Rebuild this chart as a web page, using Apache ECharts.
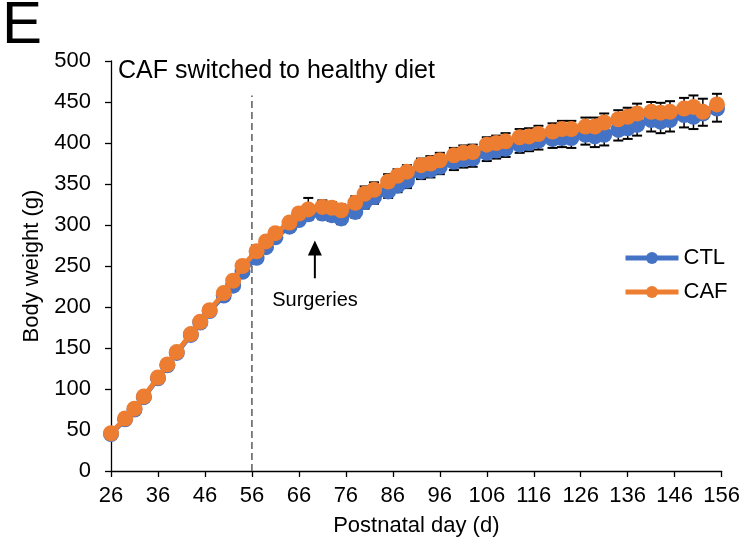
<!DOCTYPE html>
<html><head><meta charset="utf-8">
<script src="https://cdn.jsdelivr.net/npm/echarts@6/dist/echarts.min.js"></script>
<style>html,body{margin:0;padding:0;background:#fff}#c{width:743px;height:551px}</style>
</head><body><div id="c"></div>
<script>
// Postnatal days of measurement
const days = [26,29,31,33,36,38,40,43,45,47,
  50,52,54,57,59,61,64,66,68,71,
  73,75,78,80,82,85,87,89,92,94,
  96,99,101,103,106,108,110,113,115,117,
  120,122,124,127,129,131,134,136,138,141,
  143,145,148,150,152,155];
const ctlMean = [45,63,75,90,113,129,144,166,181,195,
  214,226,243,260,273,285,298,306,313,314,
  312,308,316,328,334,341,348,354,365,367,
  371,377,380,381,388,391,393,398,400,403,
  405,406,406,410,408,410,416,418,422,428,
  426,428,434,432,436,442];
const ctlSem = [2,2,2,2,2,3,3,3,3,3,
  4,5,5,5,5,5,6,6,7,7,
  7,7,7,8,8,8,8,9,9,9,
  9,10,10,10,10,10,10,10,10,11,
  11,11,12,12,13,13,13,13,13,14,
  14,14,15,15,15,16];
const cafMean = [46,64,76,91,114,130,145,167,182,196,
  217,232,250,268,280,290,303,314,319,322,
  321,318,327,338,343,353,360,365,373,375,
  379,385,388,389,398,400,402,407,408,411,
  414,417,417,420,420,425,429,432,436,438,
  437,438,442,444,438,447];
const cafSem = [2,2,2,2,2,3,3,3,3,3,
  4,4,5,5,5,5,6,6,14,8,
  7,7,8,9,9,9,8,8,8,9,
  9,9,9,9,9,9,10,10,10,10,
  10,10,10,11,11,11,11,11,12,12,
  12,13,13,14,16,13];
const xTickLabels = [26,36,46,56,66,76,86,96,106,116,126,136,146,156];
const switchDay = 56;
const surgeryDay = 69.4;

const X0 = xTickLabels[0];
const FONT = '"Liberation Sans", Arial, sans-serif';
const BLUE = '#4472C4', ORANGE = '#ED7D31';

function pts(mean, sem) { return days.map((d, i) => [d - X0, mean[i], sem[i]]); }
function errSeries(name, mean, sem, dir, z) {
  return {
    type: 'custom', name: name, z: z, silent: true, data: pts(mean, sem),
    renderItem: function (params, api) {
      const x = api.value(0), y = api.value(1), e = api.value(2);
      const p0 = api.coord([x, y]), p1 = api.coord([x, y + dir * e]);
      return { type: 'group', children: [
        { type: 'line', shape: { x1: p0[0], y1: p0[1], x2: p1[0], y2: p1[1] }, style: { stroke: '#000', lineWidth: 1.5 } },
        { type: 'line', shape: { x1: p1[0] - 5, y1: p1[1], x2: p1[0] + 5, y2: p1[1] }, style: { stroke: '#000', lineWidth: 2 } }
      ]};
    }
  };
}
function lineSeries(name, mean, color, z) {
  return {
    type: 'line', name: name, z: z, data: days.map((d, i) => [d - X0, mean[i]]),
    symbol: 'circle', symbolSize: 16, showSymbol: true,
    itemStyle: { color: color },
    lineStyle: { color: color, width: 5 },
    emphasis: { disabled: true }, animation: false
  };
}

const chart = echarts.init(document.getElementById('c'), null, { renderer: 'canvas' });
chart.setOption({
  animation: false,
  textStyle: { fontFamily: FONT },
  grid: { left: 111, right: 19, top: 61, bottom: 80 },
  xAxis: {
    type: 'value', min: 0, max: xTickLabels[xTickLabels.length - 1] - X0, interval: 10,
    axisLine: { show: true, lineStyle: { color: '#000', width: 1.3 } },
    axisTick: { show: true, length: 6, lineStyle: { color: '#000', width: 1.3 } },
    splitLine: { show: false },
    axisLabel: { fontSize: 22, color: '#000', margin: 14, fontFamily: FONT, formatter: v => String(v + X0) },
    name: 'Postnatal day (d)', nameLocation: 'middle', nameGap: 44,
    nameTextStyle: { fontSize: 22, color: '#000', fontFamily: FONT }
  },
  yAxis: {
    type: 'value', min: 0, max: 500, interval: 50,
    axisLine: { show: true, lineStyle: { color: '#000', width: 1.3 } },
    axisTick: { show: true, length: 6, lineStyle: { color: '#000', width: 1.3 } },
    splitLine: { show: false },
    axisLabel: { fontSize: 22, color: '#000', margin: 20, fontFamily: FONT },
    name: 'Body weight (g)', nameLocation: 'middle', nameGap: 64,
    nameTextStyle: { fontSize: 22, color: '#000', fontFamily: FONT }
  },
  legend: {
    orient: 'vertical', left: 618, top: 242, itemWidth: 53, itemHeight: 15, itemGap: 12,
    lineStyle: { width: 5 },
    textStyle: { fontSize: 22, color: '#000', fontFamily: FONT },
    data: ['CTL', 'CAF']
  },
  graphic: [
    { type: 'text', left: 2, top: -4, style: { text: 'E', fontSize: 60, fill: '#000', fontFamily: FONT } },
    { type: 'text', left: 118, top: 59, style: { text: 'CAF switched to healthy diet', fontSize: 25, fill: '#000', fontFamily: FONT } },
    { type: 'text', x: 315, y: 300, style: { text: 'Surgeries', fontSize: 20, fill: '#000', fontFamily: FONT, align: 'center', verticalAlign: 'middle' } }
  ],
  series: [
    {
      type: 'line', name: 'switch', z: 1, silent: true, symbol: 'none',
      data: [[switchDay - X0, 0], [switchDay - X0, 458]],
      lineStyle: { color: '#595959', width: 1.5, type: [7, 4] }
    },
    {
      type: 'custom', name: 'surgery', z: 1, silent: true,
      data: [[surgeryDay - X0, 235, 281]],
      renderItem: function (params, api) {
        const x = api.value(0);
        const b = api.coord([x, api.value(1)]), t = api.coord([x, api.value(2)]);
        return { type: 'group', children: [
          { type: 'line', shape: { x1: b[0], y1: b[1], x2: t[0], y2: t[1] + 14 }, style: { stroke: '#000', lineWidth: 2 } },
          { type: 'polygon', shape: { points: [[t[0], t[1]], [t[0] - 7, t[1] + 15], [t[0] + 7, t[1] + 15]] }, style: { fill: '#000' } }
        ]};
      }
    },
    errSeries('CTL SEM', ctlMean, ctlSem, -1, 2),
    lineSeries('CTL', ctlMean, BLUE, 3),
    errSeries('CAF SEM', cafMean, cafSem, 1, 4),
    lineSeries('CAF', cafMean, ORANGE, 5)
  ]
});
</script></body></html>
